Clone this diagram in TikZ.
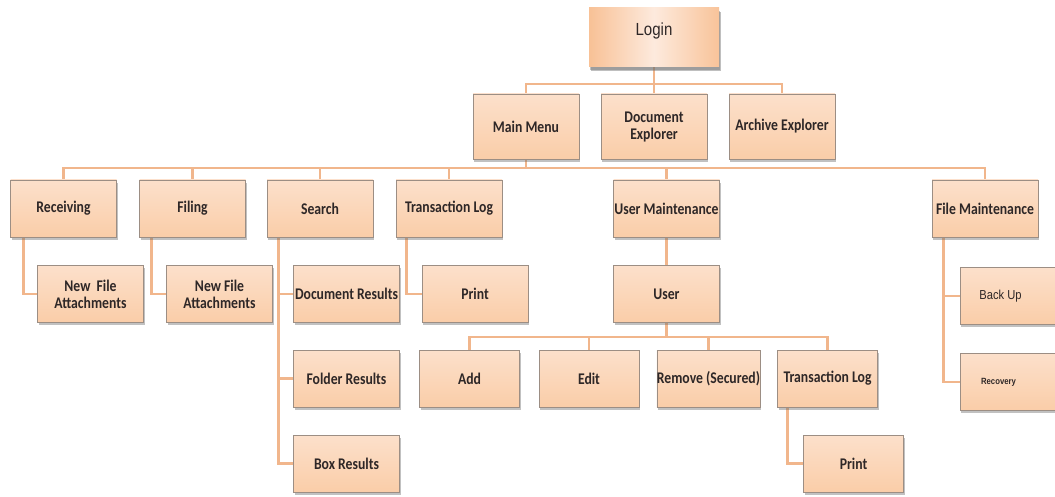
\documentclass[tikz,border=0pt]{standalone}
\usepackage{fontspec}
\usetikzlibrary{shadows,backgrounds}
\newfontfamily\boxfont{Carlito}[FakeStretch=0.84]
\newfontfamily\plainfont{Liberation Sans}[FakeStretch=0.86]

\definecolor{linkcol}{HTML}{F1B68C}
\definecolor{boxedge}{HTML}{9C8E84}
\definecolor{peachtop}{HTML}{FCE0CB}
\definecolor{peachmid}{HTML}{FDEADD}
\definecolor{peachbot}{HTML}{FACDA8}
\definecolor{peachdeep}{HTML}{F8C196}
\definecolor{inkcol}{HTML}{2E2727}

\tikzset{
  box/.style={draw=boxedge, line width=0.6pt,
    top color=peachtop, middle color=peachmid, bottom color=peachbot,
    minimum width=106pt, minimum height=57pt, inner sep=0pt,
    align=center, text=inkcol,
    font=\boxfont\bfseries\fontsize{16.3}{17}\selectfont,
    drop shadow={shadow xshift=1.2pt, shadow yshift=-2.6pt,
                 fill=black!60, opacity=.4}},
  smallbox/.style={box, minimum width=100pt},
  plainbox/.style={box, font=\plainfont\fontsize{13}{15}\selectfont},
  link/.style={draw=linkcol, line width=2.8pt},
}

\begin{document}
\begin{tikzpicture}[x=1pt, y=-1pt]
\useasboundingbox (0,0) rectangle (1055,497);

% top of the tree
\node[box, minimum width=130pt, minimum height=59pt, draw=none,
      left color=peachdeep, right color=peachdeep!80!peachbot, middle color=peachmid,
      font=\plainfont\fontsize{17.5}{19}\selectfont,
      text height=10pt, text depth=14pt,
      drop shadow={shadow xshift=1.5pt, shadow yshift=-4pt, fill=black!55, opacity=.45}]
      (login) at (654,37.5) {Login};

% first level
\node[box, minimum height=65pt] (mm)   at (526,126.5) {Main Menu};
\node[box, minimum height=65pt] (doc)  at (654,126.5) {Document\\Explorer};
\node[box, minimum height=65pt] (arch) at (782,126.5) {Archive Explorer};

% main menu entries
\node[box] (rec)  at (63.5,208.5) {Receiving};
\node[box] (fil)  at (192.5,208.5) {Filing};
\node[box] (srch) at (320,208.5) {Search};
\node[box] (tlog) at (449,208.5) {Transaction Log};
\node[box] (um)   at (666.5,208.5) {User Maintenance};
\node[box] (fm)   at (985,208.5) {File Maintenance};

% third level
\node[box] (nfa1)   at (90.5,294) {New~~File\\Attachments};
\node[box] (nfa2)   at (219.5,294) {New File\\Attachments};
\node[box] (docres) at (346.5,294) {Document Results};
\node[box] (folres) at (346.5,378.5) {Folder Results};
\node[box] (boxres) at (346.5,463.5) {Box Results};
\node[box] (print1) at (475,294) {Print};
\node[box] (user)   at (666.5,294) {User};
\node[plainbox, minimum width=105pt] (backup) at (1012.5,296) {\hbox{Back Up\hspace{24pt}}};
\node[plainbox, minimum width=105pt, font=\plainfont\bfseries\fontsize{9}{11}\selectfont]
      (recov) at (1012.5,382) {\hbox{Recovery\hspace{28pt}}};

% user entries
\node[smallbox] (add)   at (469.5,378.5) {Add};
\node[smallbox] (edit)  at (589,378.5) {Edit};
\node[smallbox] (rem)   at (708.5,378.5) {Remove (Secured)};
\node[smallbox] (tlog2) at (827.5,378.5) {Transaction Log};
\node[smallbox] (print2) at (853.5,463.5) {Print};

\begin{scope}[on background layer]
  \fill[white] (0,0) rectangle (1055,497);

  % login to first level
  \coordinate (bus1) at (654,84);
  \draw[link] (login.south) -- (doc.north);
  \draw[link] (mm.north) |- (bus1) -| (arch.north);

  % main menu to its entries
  \coordinate (bus2) at (526,168);
  \draw[link] (mm.south) -- (mm.south |- bus2);
  \draw[link] (rec.north) |- (bus2) -| (fm.north);
  \foreach \n in {fil,srch,tlog,um}
    \draw[link] (\n.north) -- (\n.north |- bus2);

  % side branches
  \draw[link] ([xshift=13pt]rec.south west) |- (nfa1.west);
  \draw[link] ([xshift=12pt]fil.south west) |- (nfa2.west);
  \draw[link] ([xshift=12pt]srch.south west) |- (boxres.west);
  \draw[link] ([xshift=12pt]srch.south west) |- (docres.west);
  \draw[link] ([xshift=12pt]srch.south west) |- (folres.west);
  \draw[link] ([xshift=11pt]tlog.south west) |- (print1.west);
  \draw[link] (um.south) -- (user.north);
  \draw[link] ([xshift=12pt]fm.south west) |- (recov.west);
  \draw[link] ([xshift=12pt]fm.south west) |- (backup.west);
  \draw[link] ([xshift=10pt]tlog2.south west) |- (print2.west);

  % user to its entries
  \coordinate (bus3) at (666.5,337);
  \draw[link] (user.south) -- (user.south |- bus3);
  \draw[link] (add.north) |- (bus3) -| (tlog2.north);
  \draw[link] (edit.north) -- (edit.north |- bus3);
  \draw[link] (rem.north) -- (rem.north |- bus3);
\end{scope}
\end{tikzpicture}
\end{document}
